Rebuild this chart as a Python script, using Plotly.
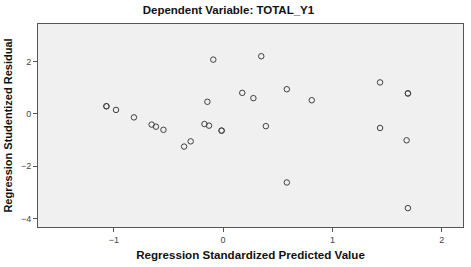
import plotly.graph_objects as go

pred = [-1.068, -1.068, -0.98, -0.816, -0.654, -0.615, -0.546, -0.357, -0.297,
        -0.171, -0.129, -0.144, -0.09, -0.014, -0.014, 0.175, 0.277, 0.349,
        0.583, 0.391, 0.811, 0.583, 1.436, 1.436, 1.691, 1.691, 1.679, 1.691]
resid = [0.29, 0.29, 0.15, -0.135, -0.41, -0.49, -0.61, -1.25, -1.05,
         -0.39, -0.45, 0.46, 2.07, -0.64, -0.64, 0.80, 0.60, 2.2,
         0.94, -0.47, 0.52, -2.62, 1.20, -0.54, 0.78, 0.78, -1.01, -3.6]

x_ticks = [-1, 0, 1, 2]
y_ticks = [2, 0, -2, -4]

fig = go.Figure(go.Scatter(
    x=pred, y=resid, mode="markers",
    marker=dict(symbol="circle-open", size=5.5, color="#404040", line=dict(width=1)),
))

font = "Liberation Sans, Arial, sans-serif"
fig.update_layout(
    width=471, height=267,
    margin=dict(l=32, r=7, t=24, b=36),
    paper_bgcolor="white", plot_bgcolor="#f0f0f0",
    showlegend=False,
    title=dict(text="<b>Dependent Variable: TOTAL_Y1</b>", x=0.485, xanchor="center",
               y=0.962, yanchor="middle", font=dict(family=font, size=11.5, color="#111")),
    xaxis=dict(range=[-1.694, 2.195], tickvals=x_ticks, ticks="outside", ticklen=4,
               tickcolor="#555", showgrid=False, zeroline=False, showline=True,
               linecolor="#555", mirror=True, linewidth=1,
               tickfont=dict(family=font, size=9, color="#444"),
               title=dict(text="<b>Regression Standardized Predicted Value</b>", standoff=7,
                          font=dict(family=font, size=11.6, color="#111"))),
    yaxis=dict(range=[-4.32, 3.43], tickvals=y_ticks, ticks="outside", ticklen=4,
               tickcolor="#555", showgrid=False, zeroline=False, showline=True,
               linecolor="#555", mirror=True, linewidth=1,
               tickfont=dict(family=font, size=9, color="#444"),
               title=dict(text="<b>Regression Studentized Residual</b>", standoff=6,
                          font=dict(family=font, size=11, color="#111"))),
)
fig.write_html("out.html")
